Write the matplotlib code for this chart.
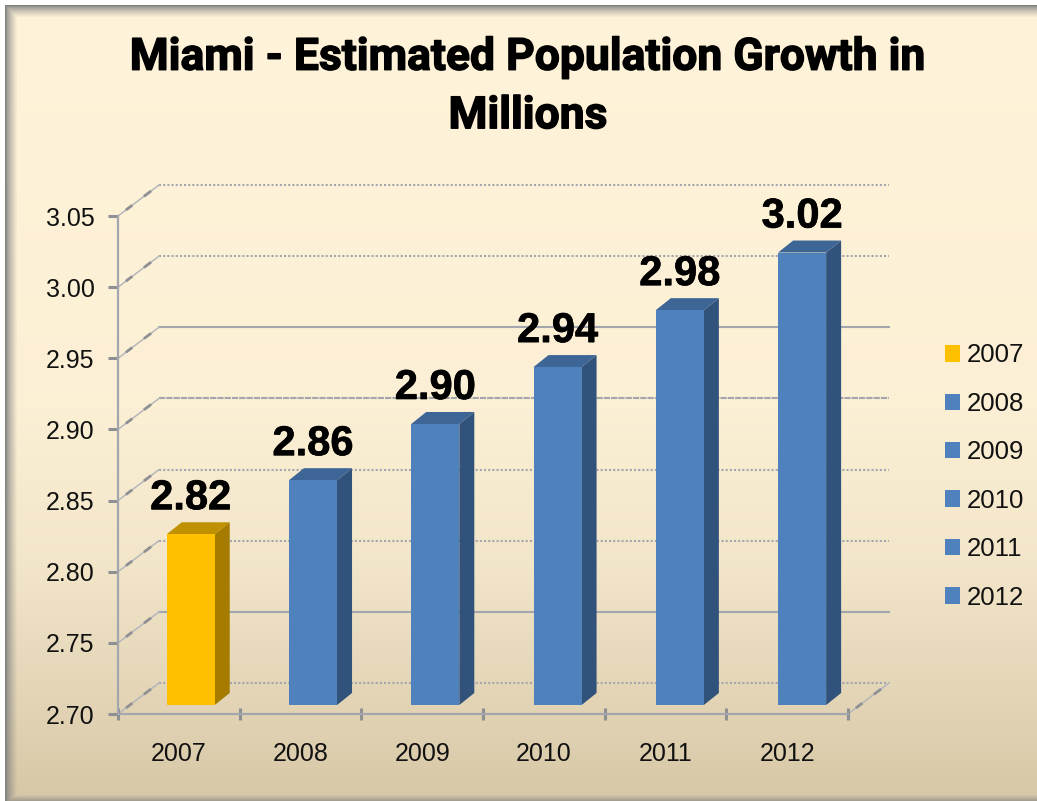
import numpy as np
import matplotlib
matplotlib.use("Agg")
import matplotlib.pyplot as plt
import matplotlib.patheffects as pe
from matplotlib.patches import Patch, Polygon
from matplotlib.transforms import Affine2D

plt.rcParams['font.family'] = ['Liberation Sans', 'DejaVu Sans']

years = ['2007', '2008', '2009', '2010', '2011', '2012']
population = [2.82, 2.858, 2.8975, 2.9375, 2.9775, 3.018]
y_ticks = [2.70, 2.75, 2.80, 2.85, 2.90, 2.95, 3.00, 3.05]
title = 'Miami - Estimated Population Growth in\nMillions'

W, H = 1037, 801
front_face = ['#FFC000', '#4F81BD', '#4F81BD', '#4F81BD', '#4F81BD', '#4F81BD']
side_face = ['#A67C00', '#31527A', '#31527A', '#31527A', '#31527A', '#31527A']
top_face = ['#BF9000', '#3D6696', '#3D6696', '#3D6696', '#3D6696', '#3D6696']
grid_styles = [(0, (1, 1)), '-', (0, (1, 1)), (0, (1, 1)), (0, (3, 0.5)), '-', (0, (1, 1)), (0, (1, 1))]
AXIS_GRAY = '#A3A6AC'
MARK_GRAY = '#8E9094'


def background():
    # cream to tan gradient with a bevel on left, top and bottom
    rows = np.interp(np.arange(H), [0, 400, 560, 700, H], [0, 0.08, 0.3, 0.7, 1.0])
    top = np.array([255, 243, 217]) / 255
    bottom = np.array([214, 199, 166]) / 255
    img = top + rows[:, None, None] * (bottom - top)
    img = np.repeat(img, W, axis=1)
    xx, yy = np.meshgrid(np.arange(W), np.arange(H))
    shade = np.minimum(np.minimum(xx - 5, yy - 5) / 12, 1).clip(0, 1)
    shade = np.minimum(shade, 0.3 + 0.7 * ((H - 1 - yy) / 6).clip(0, 1))
    edge = np.array([0.5, 0.5, 0.5])
    img = edge + shade[:, :, None] ** 0.7 * (img - edge)
    img[(xx < 5) | (yy < 5)] = 1.0
    return img


fig = plt.figure(figsize=(W / 100, H / 100), dpi=100)
bg = fig.add_axes([0, 0, 1, 1], zorder=0)
bg.imshow(background(), aspect='auto')
bg.axis('off')

# front plane of the fake 3d box
ax = fig.add_axes([118 / W, 1 - 714 / H, 730 / W, 498 / H], zorder=1)
ax.patch.set_alpha(0)
ax.set_xlim(0, 6)
ax.set_ylim(2.70, 3.05)


def shifted(dx, dy, sx=1.0):
    return ax.transData + Affine2D().scale(sx, 1).translate(dx, dy)


def diagonal(start, end):
    # thin line going back into the box, with two thick little dashes on it
    ax.plot([start[0], end[0]], [start[1], end[1]], transform=None, color='#B5B7BB', lw=1.1,
            clip_on=False, zorder=1)
    for a, b in [(0.22, 0.32), (0.66, 0.78)]:
        p = start + a * (end - start)
        q = start + b * (end - start)
        ax.plot([p[0], q[0]], [p[1], q[1]], transform=None, color=MARK_GRAY, lw=2, clip_on=False, zorder=1)


# back wall gridlines and the floor/side diagonals
back = shifted(41, 31)
for val, style in zip(y_ticks, grid_styles):
    ax.plot([0, 6], [val, val], transform=back, color=AXIS_GRAY, lw=1.5, ls=style, clip_on=False, zorder=1)
    diagonal(ax.transData.transform((0, val)), back.transform((0, val)))
diagonal(ax.transData.transform((6, 2.70)), back.transform((6, 2.70)))

# bars, front face sits a bit inside the box
BAR_W = 0.393
DX, DY = 15, 12
front = shifted(11, 9, 1.005)
x_pos = np.arange(len(years)) + 0.5
ax.bar(x_pos, np.array(population) - 2.70, width=BAR_W, bottom=2.70, color=front_face,
       transform=front, clip_on=False, zorder=4)
for x, val, c_side, c_top in zip(x_pos, population, side_face, top_face):
    x0, x1 = x - BAR_W / 2, x + BAR_W / 2
    a, b = front.transform((x1, 2.70)), front.transform((x1, val))
    c = front.transform((x0, val))
    off = np.array([DX, DY])
    ax.add_patch(Polygon([a, b, b + off, a + off], closed=True, facecolor=c_side, edgecolor='none',
                         transform=None, clip_on=False, zorder=3))
    ax.add_patch(Polygon([c, b, b + off, c + off], closed=True, facecolor=c_top, edgecolor='none',
                         transform=None, clip_on=False, zorder=3))
    ax.annotate(f'{val:.2f}', xy=(x, val), xycoords=front, xytext=(0, 18), textcoords='offset points',
                ha='center', va='baseline', fontsize=30, fontweight='bold', color='black', zorder=5,
                path_effects=[pe.withStroke(linewidth=0.5, foreground='black')])

for side in ['top', 'right']:
    ax.spines[side].set_visible(False)
for side in ['left', 'bottom']:
    ax.spines[side].set_color(AXIS_GRAY)
    ax.spines[side].set_linewidth(1.6)

ax.set_yticks(y_ticks)
ax.set_yticklabels([f'{v:.2f}' for v in y_ticks])
ax.tick_params(axis='y', length=7, width=2.2, color=MARK_GRAY, pad=10, labelsize=18, labelcolor='#111111')
ax.set_xticks(range(7))
ax.set_xticklabels([])
ax.set_xticks(x_pos, minor=True)
ax.set_xticklabels(years, minor=True)
ax.tick_params(axis='x', which='major', direction='inout', length=9, width=2.2, color=MARK_GRAY)
ax.tick_params(axis='x', which='minor', length=0, pad=20, labelsize=18, labelcolor='#111111')

handles = [Patch(facecolor=c, edgecolor='none', label=y) for c, y in zip(front_face, years)]
ax.legend(handles=handles, loc='center left', bbox_to_anchor=(945 / W, 1 - 476.5 / H),
          bbox_transform=fig.transFigure, frameon=False, fontsize=18.5, handlelength=0.6, handleheight=0.6,
          handletextpad=0.26, labelspacing=0.95, borderpad=0, borderaxespad=0, labelcolor='#111111')

fig.text(528 / W, 1 - 87 / H, title, ha='center', va='center', fontsize=32, fontweight='bold',
         fontfamily=['Roboto', 'Liberation Sans'], color='black', linespacing=1.5, zorder=5,
         path_effects=[pe.withStroke(linewidth=1.0, foreground='black')])

fig.savefig('out.png', dpi=100)
